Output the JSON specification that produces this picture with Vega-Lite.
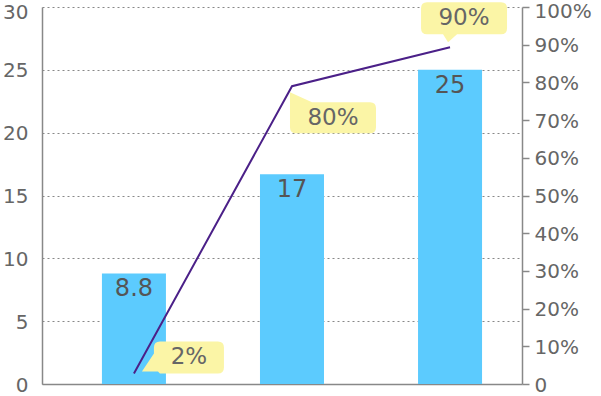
{
  "$schema": "https://vega.github.io/schema/vega-lite/v6.json",
  "autosize": "none",
  "width": 480,
  "height": 377,
  "padding": {"left": 42, "top": 7, "right": 79, "bottom": 12},
  "background": "white",
  "config": {
    "view": {"stroke": null},
    "font": "DejaVu Sans",
    "axis": {"labelFont": "DejaVu Sans", "labelColor": "#666666", "labelFontSize": 20, "domainColor": "#888888", "domainWidth": 1.5, "tickColor": "#888888", "tickWidth": 1.5}
  },
  "data": {
    "values": [
      {"cat": "A", "bar": 8.8, "barLabel": "8.8", "pct": 2.8, "pctLabel": "2%"},
      {"cat": "B", "bar": 16.7, "barLabel": "17", "pct": 79, "pctLabel": "80%"},
      {"cat": "C", "bar": 25, "barLabel": "25", "pct": 89.3, "pctLabel": "90%"}
    ]
  },
  "encoding": {
    "x": {
      "field": "cat", "type": "nominal",
      "scale": {"paddingInner": 0.595, "paddingOuter": 0.316, "align": 0.6},
      "axis": {"labels": false, "ticks": false, "title": null, "domainColor": "#888888", "domainWidth": 1.5}
    }
  },
  "layer": [
    {
      "layer": [
        {
          "mark": {"type": "bar", "color": "#5ccbfe"},
          "encoding": {
            "y": {
              "field": "bar", "type": "quantitative",
              "scale": {"domain": [0, 30], "nice": false},
              "axis": {"values": [0, 5, 10, 15, 20, 25, 30], "title": null, "ticks": false, "labelPadding": 14, "grid": true, "gridColor": "#888888", "gridDash": [2, 3], "gridWidth": 1,
                "labelOffset": {"condition": {"test": "datum.value == 30", "value": 5}, "value": 1}}
            }
          }
        },
        {
          "mark": {"type": "text", "baseline": "top", "dy": 4, "fontSize": 24, "color": "#555555"},
          "encoding": {
            "y": {"field": "bar", "type": "quantitative"},
            "text": {"field": "barLabel"}
          }
        }
      ]
    },
    {
      "encoding": {
        "y": {
          "field": "pct", "type": "quantitative",
          "scale": {"domain": [0, 100], "nice": false},
          "axis": {"orient": "right", "values": [0, 10, 20, 30, 40, 50, 60, 70, 80, 90, 100], "title": null, "tickSize": 7, "labelPadding": 5, "grid": false,
            "labelOffset": {"condition": {"test": "datum.value == 100", "value": 4}, "value": 1},
            "labelExpr": "datum.value == 0 ? '0' : datum.value + '%'"}
        }
      },
      "layer": [
        {
          "mark": {"type": "line", "color": "#4b2088", "strokeWidth": 2},
          "encoding": {}
        },
        {
          "transform": [{"filter": "datum.cat == 'A'"}],
          "layer": [
            {
              "mark": {"type": "point", "filled": true, "opacity": 1, "size": 4, "color": "#fbf5a6", "strokeWidth": 0,
                "shape": "M 8 -2 L 20 -20 L 20 -26 Q 20 -32 26 -32 L 84 -32 Q 90 -32 90 -26 L 90 -6 Q 90 0 84 0 L 26 0 L 24 -2 Z"},
              "encoding": {}
            },
            {
              "mark": {"type": "text", "dx": 55, "dy": -16, "baseline": "middle", "align": "center", "fontSize": 23, "color": "#666666"},
              "encoding": {"text": {"field": "pctLabel"}}
            }
          ]
        },
        {
          "transform": [{"filter": "datum.cat == 'B'"}],
          "layer": [
            {
              "mark": {"type": "point", "filled": true, "opacity": 1, "size": 4, "color": "#fbf5a6", "strokeWidth": 0,
                "shape": "M -2 6 L 20 16 L 78 16 Q 84 16 84 22 L 84 41 Q 84 47 78 47 L 4 47 Q -2 47 -2 41 L -2 16 Z"},
              "encoding": {}
            },
            {
              "mark": {"type": "text", "dx": 41, "dy": 31.5, "baseline": "middle", "align": "center", "fontSize": 23, "color": "#666666"},
              "encoding": {"text": {"field": "pctLabel"}}
            }
          ]
        },
        {
          "transform": [{"filter": "datum.cat == 'C'"}],
          "layer": [
            {
              "mark": {"type": "point", "filled": true, "opacity": 1, "size": 4, "color": "#fbf5a6", "strokeWidth": 0,
                "shape": "M -2 -5 L -7 -13 L -23 -13 Q -29 -13 -29 -19 L -29 -39 Q -29 -45 -23 -45 L 51 -45 Q 57 -45 57 -39 L 57 -19 Q 57 -13 51 -13 L 7 -13 Z"},
              "encoding": {}
            },
            {
              "mark": {"type": "text", "dx": 14, "dy": -29, "baseline": "middle", "align": "center", "fontSize": 23, "color": "#666666"},
              "encoding": {"text": {"field": "pctLabel"}}
            }
          ]
        }
      ]
    }
  ],
  "resolve": {"scale": {"y": "independent"}}
}
